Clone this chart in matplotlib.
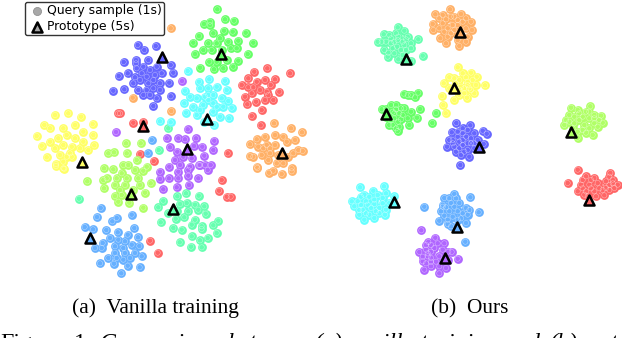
import matplotlib
matplotlib.use("Agg")
import matplotlib.pyplot as plt

# Colours of the ten classes
RED = "#ff6666"
ORANGE = "#ffb066"
YELLOW = "#ffff66"
LIME = "#b0ff66"
GREEN = "#66ff66"
MINT = "#66ffb0"
CYAN = "#66ffff"
BLUE = "#66b0ff"
INDIGO = "#6666ff"
PURPLE = "#b066ff"

# t-SNE points, (a) vanilla training
a_indigo = [(413,135),(433,150),(467,138),(371,186),(408,180),(445,180),(512,195),(520,218),(356,228),(383,220),(410,205),(430,200),(450,210),(470,200),(485,220),(400,250),(420,240),(440,230),(460,240),(480,250),(508,248),(340,272),(373,268),(415,270),(440,270),(460,265),(480,270),(512,289),(430,285),(450,285),(470,295),(460,318),(408,190),(425,220),(445,250),(405,232),(465,225)]
a_green = [(652,28),(675,58),(702,62),(737,98),(760,128),(743,162),(715,182),(700,200),(670,205),(642,208),(600,203),(585,162),(597,108),(580,128),(612,72),(630,65),(640,100),(672,92),(698,95),(625,130),(650,130),(685,125),(715,122),(610,150),(635,150),(665,150),(692,145),(710,145),(628,185),(650,185),(680,180),(660,115),(630,75)]
a_red = [(802,205),(763,215),(870,220),(825,238),(745,235),(725,255),(770,245),(795,240),(812,255),(838,275),(735,290),(755,280),(780,270),(800,275),(820,300),(795,300),(768,305),(742,313),(785,330),(755,348),(760,262),(745,262),(805,285),(354,340),(360,340),(400,368),(430,365),(782,376),(420,462),(461,483),(683,460),(665,540),(657,572),(680,590),(692,590),(450,722),(473,758)]
a_cyan = [(563,213),(628,238),(675,242),(597,245),(555,272),(680,270),(570,290),(600,265),(625,265),(650,260),(590,295),(615,290),(640,285),(665,295),(685,303),(553,310),(580,320),(610,315),(640,310),(670,320),(695,323),(558,338),(590,345),(640,335),(660,350),(687,355),(612,365),(642,375),(625,300),(650,320),(600,330),(480,364),(512,367),(625,285)]
a_orange = [(512,85),(398,293),(514,333),(822,370),(873,385),(906,397),(770,418),(795,410),(825,405),(850,410),(750,433),(775,440),(800,435),(825,435),(860,425),(885,420),(760,470),(785,465),(810,460),(835,465),(865,470),(895,450),(908,453),(880,460),(750,468),(770,500),(805,480),(830,490),(850,490),(875,505),(772,504),(807,518),(820,512),(845,522),(875,514),(790,445),(810,445)]
a_yellow = [(205,340),(165,345),(243,350),(133,375),(278,372),(110,408),(150,385),(190,385),(225,375),(250,395),(280,405),(125,437),(150,425),(175,415),(200,405),(225,415),(250,425),(283,436),(140,472),(165,445),(190,435),(215,440),(240,445),(265,450),(168,492),(190,485),(215,470),(190,505),(168,498),(193,506),(210,460),(180,465),(200,470)]
a_lime = [(378,430),(422,430),(380,460),(325,460),(342,457),(410,480),(370,495),(385,495),(312,505),(340,508),(405,510),(440,500),(430,512),(365,520),(310,540),(350,535),(380,535),(415,535),(320,535),(345,555),(375,555),(420,555),(452,550),(312,565),(360,570),(400,570),(435,578),(345,588),(365,585),(355,605),(388,608),(430,623),(262,544)]
a_purple = [(546,243),(563,388),(348,396),(500,415),(535,415),(588,415),(555,418),(643,422),(510,442),(582,438),(532,455),(607,440),(640,450),(613,467),(575,475),(525,480),(550,470),(508,500),(540,495),(570,500),(597,495),(632,495),(623,510),(480,515),(535,515),(565,510),(480,537),(507,535),(535,535),(565,527),(595,535),(490,568),(530,562),(567,555),(600,495),(615,495)]
a_mint = [(237,596),(490,602),(475,622),(505,639),(482,667),(532,589),(558,580),(596,587),(540,612),(560,609),(585,614),(613,619),(595,629),(617,641),(565,634),(530,634),(527,656),(553,652),(585,659),(575,674),(605,679),(520,684),(545,689),(575,709),(605,687),(655,662),(640,676),(650,699),(623,714),(600,721),(539,727),(573,740),(605,742),(505,385),(476,450)]
a_blue = [(455,420),(443,460),(302,624),(291,651),(395,644),(350,654),(337,664),(254,681),(279,688),(319,690),(353,697),(403,684),(383,704),(330,714),(414,712),(355,719),(375,724),(308,729),(285,744),(305,744),(345,739),(370,744),(395,734),(418,738),(345,759),(375,759),(405,759),(325,774),(350,774),(425,769),(370,779),(390,774),(300,790),(342,791),(383,797),(419,802),(364,820)]

# (b) ours, the tight cores are nearly solid so they hold more points
b_mint = [(260,82),(218,103),(235,105),(255,100),(280,92),(290,110),(322,118),(200,125),(225,125),(250,125),(275,125),(300,130),(220,150),(245,145),(270,150),(300,145),(335,167),(230,170),(262,178),(300,183),(260,120),(240,130),(280,135),(212,125),(262,110),(240,115),(285,118),(258,140),(232,158),(285,150),(250,160),(275,165)]
b_orange = [(417,28),(373,43),(395,45),(450,42),(420,50),(480,65),(365,72),(395,70),(425,75),(455,65),(367,90),(400,95),(483,90),(420,100),(470,110),(388,115),(405,130),(445,138),(465,125),(440,120),(385,55),(410,85),(440,60),(405,58),(385,85),(430,90),(410,110),(440,75),(465,85),(430,50),(465,55),(450,110)]
b_yellow = [(440,202),(415,232),(455,220),(480,218),(497,230),(398,250),(445,240),(470,245),(495,255),(522,256),(415,265),(460,265),(490,280),(445,285),(468,293),(393,288),(430,300),(397,315),(404,340),(475,265),(450,260),(435,250),(430,235),(465,232),(485,240),(480,270),(460,280),(445,270),(470,255)]
b_green = [(278,281),(300,285),(322,278),(312,292),(290,285),(212,328),(240,315),(255,315),(280,325),(327,327),(225,350),(250,340),(275,345),(300,335),(318,353),(235,375),(262,365),(290,355),(295,375),(260,393),(375,339),(364,369),(245,335),(265,380),(240,360),(225,328),(255,328),(265,340),(250,355),(270,358),(245,375),(255,385),(270,325)]
b_indigo = [(436,369),(478,376),(515,392),(527,401),(422,397),(455,385),(490,400),(415,420),(440,410),(465,410),(500,420),(408,440),(430,440),(455,435),(480,430),(518,432),(435,455),(460,455),(490,445),(475,470),(448,495),(425,420),(470,390),(455,420),(445,425),(440,395),(480,415),(470,430),(445,445),(470,450),(425,430),(490,430),(455,400),(450,465)]
b_lime = [(780,323),(838,319),(800,330),(825,335),(790,350),(815,350),(850,345),(870,347),(765,360),(760,375),(790,370),(820,375),(850,370),(875,368),(800,395),(825,398),(845,405),(800,413),(860,380),(835,355),(805,360),(835,385),(815,390),(775,345),(835,335),(805,340),(850,355),(785,385),(865,360),(775,365)]
b_red = [(800,509),(898,519),(770,549),(825,529),(850,534),(810,554),(835,554),(860,549),(885,544),(905,539),(920,554),(800,574),(825,574),(850,574),(880,586),(885,564),(910,564),(855,589),(830,589),(815,540),(840,540),(815,565),(865,565),(895,530),(895,555),(875,570),(840,565),(905,550),(895,570),(820,584)]
b_cyan = [(147,562),(219,559),(187,572),(160,584),(250,589),(122,604),(140,604),(165,604),(190,599),(215,594),(235,609),(130,619),(155,629),(180,624),(205,624),(225,629),(160,659),(190,654),(222,644),(145,644),(175,644),(195,634),(170,614),(150,590),(175,590),(200,585),(225,580),(150,615),(190,612),(215,610),(165,640),(205,640),(245,610),(145,630)]
b_blue = [(430,582),(400,594),(478,592),(340,620),(395,614),(420,609),(445,609),(465,624),(503,637),(390,634),(415,634),(440,634),(470,644),(385,662),(410,659),(440,659),(465,669),(420,679),(463,725),(415,595),(430,620),(405,622),(455,640),(425,650),(400,647),(450,655),(475,630),(435,595),(410,672),(395,620)]
b_purple = [(331,691),(373,713),(352,726),(400,730),(325,756),(345,749),(370,744),(395,749),(422,756),(440,776),(335,784),(360,774),(385,769),(410,779),(340,809),(360,799),(385,799),(405,804),(385,820),(350,769),(360,735),(380,730),(360,755),(345,790),(375,785),(395,785),(335,770),(360,785),(345,735),(412,755),(350,760)]

a_clusters = [(a_red, RED), (a_orange, ORANGE), (a_yellow, YELLOW), (a_lime, LIME), (a_green, GREEN),
              (a_mint, MINT), (a_cyan, CYAN), (a_blue, BLUE), (a_indigo, INDIGO), (a_purple, PURPLE)]
b_clusters = [(b_red, RED), (b_orange, ORANGE), (b_yellow, YELLOW), (b_lime, LIME), (b_green, GREEN),
              (b_mint, MINT), (b_cyan, CYAN), (b_blue, BLUE), (b_indigo, INDIGO), (b_purple, PURPLE)]

# Prototypes
a_protos = [((428,379), RED), ((846,459), ORANGE), ((247,487), YELLOW), ((392,582), LIME), ((662,162), GREEN),
            ((519,626), MINT), ((622,357), CYAN), ((271,715), BLUE), ((485,172), INDIGO), ((562,446), PURPLE)]
b_protos = [((835,600), RED), ((447,95), ORANGE), ((429,263), YELLOW), ((779,396), LIME), ((226,341), GREEN),
            ((284,178), MINT), ((248,606), CYAN), ((438,680), BLUE), ((504,442), INDIGO), ((402,774), PURPLE)]

legend_labels = ["Query sample (1s)", "Prototype (5s)"]
caption_a = "(a)  Vanilla training"
caption_b = "(b)  Ours"

# Bottom line of the paper caption, only the tops of its letters are in the crop
label_words = ["Figure", "1:"]
label_left = [0, 74]
caption_words = ["Comparison", "between", "(a)", "vanilla", "training", "and", "(b)", "our", "t"]
caption_left = [100, 227, 314, 349, 421, 504, 549, 578, 611]


def draw_panel(ax, clusters, protos):
    ax.set_xlim(0, 933)
    ax.set_ylim(1014, 0)
    ax.axis("off")
    for pts, col in clusters:
        xs = [p[0] for p in pts]
        ys = [p[1] for p in pts]
        ax.scatter(xs, ys, s=40, color=col, linewidths=0, zorder=2)
        ax.scatter(xs, ys, s=14, facecolors="none", edgecolors="white", linewidths=0.35, alpha=0.55, zorder=2)
    for (x, y), col in protos:
        ax.scatter([x], [y], s=52, marker="^", color=col, edgecolors="black", linewidths=1.8, zorder=3)


fig = plt.figure(figsize=(6.22, 3.38), dpi=100)
ax1 = fig.add_axes([0, 0, 0.5, 1])
ax2 = fig.add_axes([0.5, 0, 0.5, 1])
draw_panel(ax1, a_clusters, a_protos)
draw_panel(ax2, b_clusters, b_protos)

# legend
h1 = ax1.scatter([], [], s=34, color="#a8a8a8", edgecolors="#888888", linewidths=0.5)
h2 = ax1.scatter([], [], s=52, marker="^", color="#a8a8a8", edgecolors="black", linewidths=1.8)
leg = ax1.legend([h1, h2], legend_labels, loc="upper left", bbox_to_anchor=(25 / 311, 1 - 2 / 338),
                 borderaxespad=0, fontsize=8.9, handletextpad=0.05, labelspacing=0.2, borderpad=0.2,
                 fancybox=True, framealpha=1, edgecolor="#333333", handlelength=1.5)
leg.get_frame().set_linewidth(1.0)
leg.set_zorder(5)

serif = "Liberation Serif"
fig.text(155 / 622, 1 - 313 / 338, caption_a, family=serif, fontsize=15.4, ha="center", va="baseline", color="black")
fig.text(470 / 622, 1 - 313 / 338, caption_b, family=serif, fontsize=15.4, ha="center", va="baseline", color="black")
for word, left in zip(label_words, label_left):
    fig.text(left / 622, 1 - 349 / 338, word, family=serif, fontsize=17.2, ha="left", va="baseline", color="black")
for word, left in zip(caption_words, caption_left):
    fig.text(left / 622, 1 - 349 / 338, word, family=serif, style="italic", fontsize=17.2, ha="left", va="baseline", color="black")

fig.savefig("out.png", dpi=100)
